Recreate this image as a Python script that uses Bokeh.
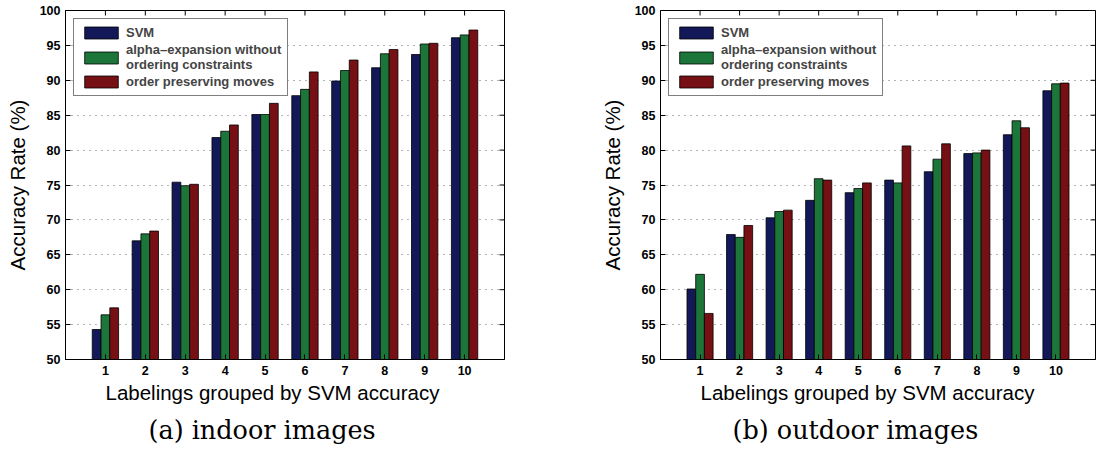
import math
from bokeh.plotting import figure
from bokeh.models import (ColumnDataSource, FixedTicker, Range1d,
                          Legend, LegendItem, Title)
from bokeh.transform import dodge
from bokeh.layouts import row
from bokeh.embed import file_html
from bokeh.resources import INLINE

groups = [1, 2, 3, 4, 5, 6, 7, 8, 9, 10]
series_names = ["SVM", "alpha\u2013expansion without\nordering constraints",
                "order preserving moves"]

indoor_svm = [54.3, 67.0, 75.4, 81.8, 85.1, 87.8, 89.9, 91.8, 93.7, 96.1]
indoor_alpha = [56.4, 68.0, 74.9, 82.7, 85.1, 88.7, 91.4, 93.8, 95.2, 96.5]
indoor_order = [57.4, 68.4, 75.1, 83.6, 86.7, 91.2, 92.9, 94.4, 95.3, 97.2]

outdoor_svm = [60.1, 67.9, 70.3, 72.8, 73.9, 75.7, 76.9, 79.5, 82.2, 88.5]
outdoor_alpha = [62.2, 67.5, 71.2, 75.9, 74.5, 75.3, 78.7, 79.6, 84.2, 89.5]
outdoor_order = [56.6, 69.2, 71.4, 75.7, 75.3, 80.6, 80.9, 80.0, 83.2, 89.6]

y_ticks = [50, 55, 60, 65, 70, 75, 80, 85, 90, 95, 100]
X_MIN, X_MAX, Y_MIN, Y_MAX = 0, 11, 50, 100

x_label = "Labelings grouped by SVM accuracy"
y_label = "Accuracy Rate (%)"

colors = ["#121858", "#1d7639", "#761014"]


def make_panel(svm, alpha, order, caption, width, left_border, right_border,
               xlabel_offset, caption_offset):
    p = figure(width=width, height=454, output_backend="svg", toolbar_location=None,
               x_range=Range1d(X_MIN, X_MAX), y_range=Range1d(Y_MIN, Y_MAX),
               min_border_left=left_border, min_border_right=right_border,
               min_border_top=10, min_border_bottom=95)
    p.background_fill_color = "white"
    p.border_fill_color = "white"
    p.outline_line_color = "black"
    p.outline_line_width = 1

    src = ColumnDataSource(dict(g=groups, a=svm, b=alpha, c=order))
    rs = []
    for col, off, c in zip(["a", "b", "c"], [-0.22, 0.0, 0.22], colors):
        r = p.vbar(x=dodge("g", off, range=p.x_range), top=col, bottom=Y_MIN, width=0.22,
                   source=src, fill_color=c, line_color="black", line_width=0.8)
        rs.append(r)

    # inward tick marks on the top and right frame edges
    p.ray(x=groups, y=[Y_MAX] * len(groups), length=5, length_units="screen",
          angle=-math.pi / 2, line_color="black", line_width=1)
    p.ray(x=[X_MAX] * len(y_ticks), y=y_ticks, length=5, length_units="screen",
          angle=math.pi, line_color="black", line_width=1)

    # axes
    p.xaxis.ticker = FixedTicker(ticks=groups)
    p.yaxis.ticker = FixedTicker(ticks=y_ticks)
    for ax in (p.xaxis[0], p.yaxis[0]):
        ax.major_tick_in = 5
        ax.major_tick_out = 0
        ax.minor_tick_line_color = None
        ax.axis_line_color = "black"
        ax.major_label_text_font = "Liberation Sans"
        ax.major_label_text_font_style = "bold"
        ax.major_label_text_font_size = "12.5px"
        ax.major_label_text_color = "black"
        ax.axis_label_text_font = "Liberation Sans"
        ax.axis_label_text_font_style = "normal"
        ax.axis_label_text_font_size = "20.5px"
        ax.axis_label_text_color = "black"
    p.yaxis.axis_label = y_label
    p.xaxis.major_label_standoff = 6
    p.yaxis.major_label_standoff = 5
    p.yaxis.axis_label_standoff = 8

    # grids
    p.xgrid.grid_line_color = None
    p.ygrid.ticker = FixedTicker(ticks=y_ticks[1:-1])
    p.ygrid.grid_line_color = "#666666"
    p.ygrid.grid_line_dash = "1 5"
    p.ygrid.grid_line_width = 1

    legend = Legend(items=[LegendItem(label=n, renderers=[r]) for n, r in zip(series_names, rs)],
                    location="top_left", border_line_color="black", border_line_width=1,
                    label_text_font="Liberation Sans", label_text_font_style="bold",
                    label_text_font_size="13px", glyph_width=42, glyph_height=15,
                    label_standoff=4, padding=6, spacing=2, margin=8,
                    label_height=14, background_fill_alpha=1)
    p.add_layout(legend)

    # x-axis label and sub-figure caption, stacked below the axis
    p.add_layout(Title(text=x_label, align="left", offset=xlabel_offset,
                       text_font="Liberation Sans", text_font_style="normal",
                       text_font_size="20.5px", text_color="black", standoff=2), "below")
    p.add_layout(Title(text=caption, align="left", offset=caption_offset,
                       text_font="DejaVu Serif", text_font_style="normal",
                       text_font_size="25.5px", text_color="black", standoff=16), "below")
    return p


p1 = make_panel(indoor_svm, indoor_alpha, indoor_order, "(a) indoor images",
                550, 65, 46, 40, 83)
p2 = make_panel(outdoor_svm, outdoor_alpha, outdoor_order, "(b) outdoor images",
                551, 110, 6, 40, 72)

p = row(p1, p2, spacing=0)

open("out.html", "w").write(file_html(p, INLINE))
